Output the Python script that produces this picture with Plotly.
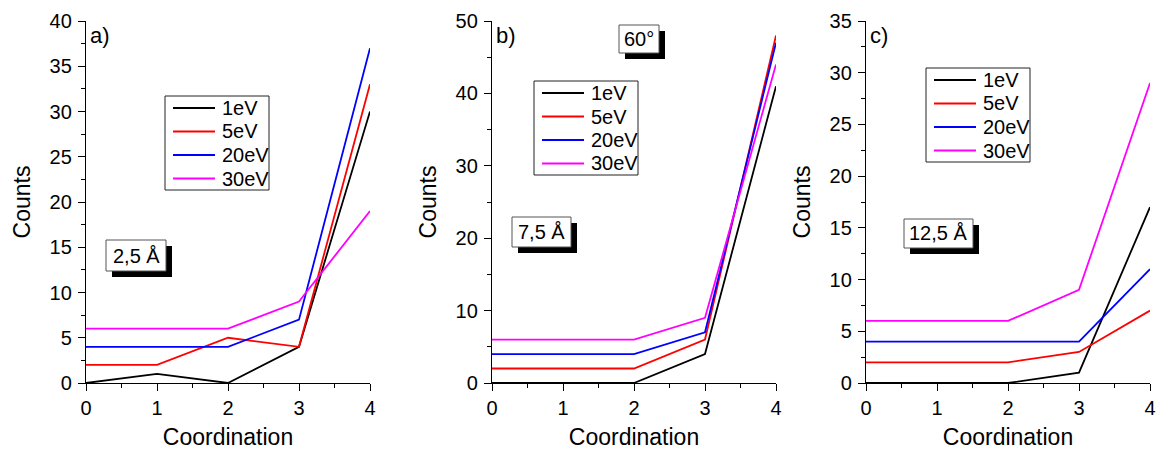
import plotly.graph_objects as go

W, H = 1157, 450

coordination = [0, 1, 2, 3, 4]
energies = ["1eV", "5eV", "20eV", "30eV"]
colors = ["#000000", "#ff0000", "#0000ff", "#ff00ff"]

# Panel a) 2,5 Å
a_1eV = [0, 1, 0, 4, 30]
a_5eV = [2, 2, 5, 4, 33]
a_20eV = [4, 4, 4, 7, 37]
a_30eV = [6, 6, 6, 9, 19]
# Panel b) 7,5 Å
b_1eV = [0, 0, 0, 4, 41]
b_5eV = [2, 2, 2, 6, 48]
b_20eV = [4, 4, 4, 7, 47]
b_30eV = [6, 6, 6, 9, 44]
# Panel c) 12,5 Å
c_1eV = [0, 0, 0, 1, 17]
c_5eV = [2, 2, 2, 3, 7]
c_20eV = [4, 4, 4, 4, 11]
c_30eV = [6, 6, 6, 9, 29]

panels = [
    dict(series=[a_1eV, a_5eV, a_20eV, a_30eV], ymax=40, dtick=5, label="a)"),
    dict(series=[b_1eV, b_5eV, b_20eV, b_30eV], ymax=50, dtick=10, label="b)"),
    dict(series=[c_1eV, c_5eV, c_20eV, c_30eV], ymax=35, dtick=5, label="c)"),
]

FONT = "Liberation Sans, Arial, sans-serif"

# pixel layout of each plot area
x_px = [(86, 370), (492, 776), (866, 1150)]
y_top, y_bot = 21, 383
legend_px = [(165, 96), (534, 81), (926, 68)]   # legend box top-left
label_px = [(88, 36), (494, 36), (868, 36)]
boxes = [
    (106, 240, 166, 271, "2,5 Å"),
    (512, 217, 571, 247, "7,5 Å"),
    (904, 219, 973, 248, "12,5 Å"),
    (619, 25, 659, 53, "60°"),
]

def px(x):
    return x / W

def py(y):
    return 1 - y / H

fig = go.Figure()
layout = dict(
    width=W, height=H,
    margin=dict(l=0, r=0, t=0, b=0),
    paper_bgcolor="white", plot_bgcolor="white",
    font=dict(family=FONT, size=20, color="black"),
    shapes=[], annotations=[], showlegend=False,
)

for i, p in enumerate(panels):
    n = "" if i == 0 else str(i + 1)
    for s, name, col in zip(p["series"], energies, colors):
        fig.add_trace(go.Scatter(
            x=coordination, y=s, mode="lines", name=name,
            line=dict(color=col, width=1.8),
            xaxis="x" + n, yaxis="y" + n,
        ))
    x0, x1 = x_px[i]
    common = dict(
        showline=True, linecolor="black", linewidth=1.3, mirror=False,
        ticks="outside", ticklen=7, tickwidth=1.2, tickcolor="black",
        showgrid=False, zeroline=False, automargin=False,
        tickfont=dict(family=FONT, size=20),
    )
    layout["xaxis" + n] = dict(
        common, domain=[px(x0), px(x1)], range=[0, 4], dtick=1, tick0=0,
        anchor="y" + n,
        title=dict(text="Coordination", font=dict(family=FONT, size=23), standoff=10),
        minor=dict(ticks="outside", dtick=0.5, ticklen=4, tickcolor="black", tickwidth=1.2),
    )
    layout["yaxis" + n] = dict(
        common, domain=[py(y_bot), py(y_top)], range=[0, p["ymax"]], dtick=p["dtick"], tick0=0,
        anchor="x" + n, ticklabelstandoff=2,
        title=dict(text="Counts", font=dict(family=FONT, size=23), standoff=12),
        minor=dict(ticks="outside", dtick=p["dtick"] / 2, ticklen=4, tickcolor="black", tickwidth=1.2),
    )

    # legend box drawn in paper coordinates
    lx, ly = legend_px[i]
    layout["shapes"].append(dict(
        type="rect", xref="paper", yref="paper",
        x0=px(lx), x1=px(lx + 104), y0=py(ly + 94), y1=py(ly),
        fillcolor="white", line=dict(color="#222", width=1), layer="above",
    ))
    for k, (name, col) in enumerate(zip(energies, colors)):
        yy = ly + 12 + 23.5 * k
        layout["shapes"].append(dict(
            type="line", xref="paper", yref="paper",
            x0=px(lx + 8), x1=px(lx + 50), y0=py(yy), y1=py(yy),
            line=dict(color=col, width=1.8), layer="above",
        ))
        layout["annotations"].append(dict(
            x=px(lx + 55), y=py(yy), xref="paper", yref="paper",
            xanchor="left", yanchor="middle", text=name, showarrow=False,
            font=dict(family=FONT, size=20),
        ))

    ax, ay = label_px[i]
    layout["annotations"].append(dict(
        x=px(ax), y=py(ay), xref="paper", yref="paper", xanchor="left", yanchor="middle",
        text=p["label"], showarrow=False, font=dict(family=FONT, size=22),
    ))

for (bx0, by0, bx1, by1, txt) in boxes:
    layout["shapes"].append(dict(
        type="rect", xref="paper", yref="paper",
        x0=px(bx0 + 6), x1=px(bx1 + 6), y0=py(by1 + 6), y1=py(by0 + 6),
        fillcolor="black", line=dict(width=0), layer="above",
    ))
    layout["shapes"].append(dict(
        type="rect", xref="paper", yref="paper",
        x0=px(bx0), x1=px(bx1), y0=py(by1), y1=py(by0),
        fillcolor="white", line=dict(color="#555", width=1), layer="above",
    ))
    layout["annotations"].append(dict(
        x=px((bx0 + bx1) / 2), y=py((by0 + by1) / 2), xref="paper", yref="paper",
        xanchor="center", yanchor="middle", text=txt, showarrow=False,
        font=dict(family=FONT, size=20),
    ))

fig.update_layout(**layout)
fig.write_html("out.html", config={"displayModeBar": False},
               post_script="document.body.style.margin='0';")
